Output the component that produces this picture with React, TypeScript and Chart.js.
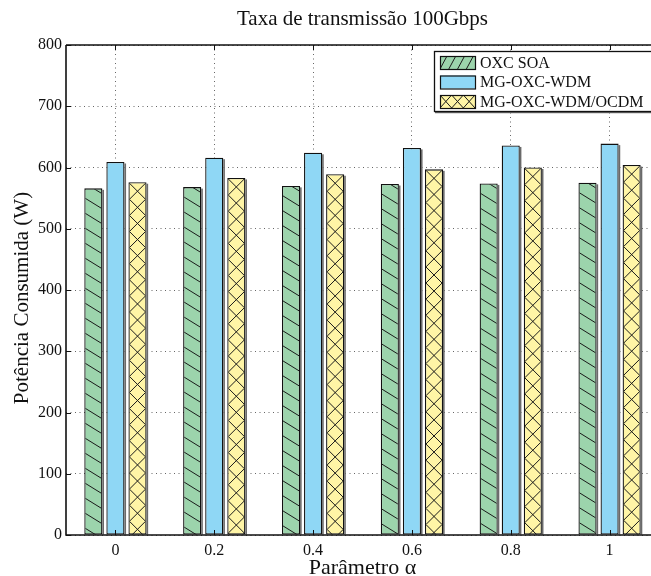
import React, { useEffect, useRef } from 'react';
import { Chart, registerables } from 'chart.js';
Chart.register(...registerables);

const categories = ['0', '0.2', '0.4', '0.6', '0.8', '1'];
const oxcSoa = [566, 568, 570, 573, 574, 575];
const mgOxcWdm = [609, 616, 624, 632, 636, 639];
const mgOxcWdmOcdm = [576, 583, 589, 597, 600, 604];
const seriesNames = ['OXC SOA', 'MG-OXC-WDM', 'MG-OXC-WDM/OCDM'];
const seriesColors = ['#9cd4ac', '#8fd7f5', '#fff5a6'];
const yMin = 0;
const yMax = 800;
const yStep = 100;
const titleText = 'Taxa de transmissão 100Gbps';
const xTitle = 'Parâmetro α';
const yTitle = 'Potência Consumida (W)';

const FONT = '"Liberation Serif", "Times New Roman", serif';
const INK = '#111';

function hatchBackslash(ctx: CanvasRenderingContext2D, l: number, t: number, r: number, b: number, slope: number, spacing: number, c0: number) {
  ctx.save();
  ctx.beginPath();
  ctx.rect(l, t, r - l, b - t);
  ctx.clip();
  ctx.beginPath();
  const w = r - l;
  let c = c0;
  while (c > t - slope * w) c -= spacing;
  for (; c < b; c += spacing) {
    ctx.moveTo(l, c);
    ctx.lineTo(r, c + slope * w);
  }
  ctx.stroke();
  ctx.restore();
}

function hatchCross(ctx: CanvasRenderingContext2D, l: number, t: number, r: number, b: number) {
  const w = r - l;
  ctx.save();
  ctx.beginPath();
  ctx.rect(l, t, w, b - t);
  ctx.clip();
  ctx.beginPath();
  for (let c = t; c < b; c += w) {
    ctx.moveTo(l, c);
    ctx.lineTo(r, c + w);
    ctx.moveTo(r, c);
    ctx.lineTo(l, c + w);
  }
  ctx.stroke();
  ctx.restore();
}

const decorPlugin = {
  id: 'decor',
  beforeDatasetsDraw(chart: any) {
    const ctx = chart.ctx as CanvasRenderingContext2D;
    ctx.save();
    ctx.fillStyle = '#6a6a6a';
    chart.data.datasets.forEach((_: any, di: number) => {
      chart.getDatasetMeta(di).data.forEach((bar: any) => {
        const right = bar.x + bar.width / 2;
        ctx.fillRect(right, bar.y + 1.5, 1.6, bar.base - bar.y - 1.5);
      });
    });
    ctx.restore();
  },
  afterDatasetsDraw(chart: any) {
    const ctx = chart.ctx as CanvasRenderingContext2D;
    ctx.save();
    ctx.strokeStyle = '#1a1a1a';
    ctx.lineWidth = 1;
    chart.getDatasetMeta(0).data.forEach((bar: any) => {
      const l = bar.x - bar.width / 2 + 1, r = bar.x + bar.width / 2 - 1;
      hatchBackslash(ctx, l, bar.y + 1, r, bar.base, 0.62, 15, bar.y - 5);
    });
    chart.getDatasetMeta(2).data.forEach((bar: any) => {
      const l = bar.x - bar.width / 2 + 1, r = bar.x + bar.width / 2 - 1;
      hatchCross(ctx, l, bar.y + 1, r, bar.base);
    });
    ctx.restore();
  },
  afterDraw(chart: any) {
    const ctx = chart.ctx as CanvasRenderingContext2D;
    const { left, right, top, bottom } = chart.chartArea;
    const xs = chart.scales.x;
    const ys = chart.scales.y;
    ctx.save();
    // frame
    ctx.strokeStyle = INK;
    ctx.lineWidth = 1.6;
    ctx.beginPath();
    ctx.moveTo(left, top);
    ctx.lineTo(right, top);
    ctx.moveTo(left, top);
    ctx.lineTo(left, bottom);
    ctx.lineTo(right, bottom);
    ctx.stroke();
    // inward ticks
    ctx.lineWidth = 1;
    ctx.beginPath();
    for (let v = yMin; v <= yMax; v += yStep) {
      const y = Math.round(ys.getPixelForValue(v)) + 0.5;
      ctx.moveTo(left, y);
      ctx.lineTo(left + 5, y);
    }
    categories.forEach((_, i) => {
      const x = Math.round(xs.getPixelForValue(i)) + 0.5;
      ctx.moveTo(x, top);
      ctx.lineTo(x, top + 5);
      ctx.moveTo(x, bottom);
      ctx.lineTo(x, bottom - 5);
    });
    ctx.stroke();

    // legend
    const lx = 434, ly = 51, lw = 300, lh = 60;
    ctx.fillStyle = '#fff';
    ctx.fillRect(lx, ly, lw, lh);
    ctx.strokeStyle = INK;
    ctx.lineWidth = 1.3;
    ctx.strokeRect(lx + 0.5, ly + 0.5, lw, lh);
    ctx.fillStyle = '#555';
    ctx.fillRect(lx + 1, ly + lh + 1, lw, 1.2);
    const sx = 440, sw = 35, sh = 13;
    const rows = [56, 75.5, 95];
    ctx.font = `16px ${FONT}`;
    ctx.textBaseline = 'middle';
    ctx.textAlign = 'left';
    seriesNames.forEach((name, i) => {
      const sy = rows[i];
      ctx.fillStyle = seriesColors[i];
      ctx.fillRect(sx, sy, sw, sh);
      ctx.strokeStyle = '#1a1a1a';
      ctx.lineWidth = 1;
      if (i === 0) {
        ctx.save();
        ctx.beginPath();
        ctx.rect(sx, sy, sw, sh);
        ctx.clip();
        ctx.beginPath();
        for (let k = -1; k < 5; k++) {
          const bx = sx + k * 8.8;
          ctx.moveTo(bx, sy + sh);
          ctx.lineTo(bx + 7, sy);
        }
        ctx.stroke();
        ctx.restore();
      } else if (i === 2) {
        ctx.save();
        ctx.beginPath();
        ctx.rect(sx, sy, sw, sh);
        ctx.clip();
        ctx.beginPath();
        const cw = sw / 3;
        for (let k = 0; k < 3; k++) {
          const bx = sx + k * cw;
          ctx.moveTo(bx, sy);
          ctx.lineTo(bx + cw, sy + sh);
          ctx.moveTo(bx + cw, sy);
          ctx.lineTo(bx, sy + sh);
        }
        ctx.stroke();
        ctx.restore();
      }
      ctx.strokeStyle = INK;
      ctx.lineWidth = 1.2;
      ctx.strokeRect(sx + 0.5, sy + 0.5, sw, sh);
      ctx.fillStyle = INK;
      ctx.fillText(name, 480, sy + sh / 2 + 1);
    });

    // titles
    ctx.fillStyle = INK;
    ctx.textAlign = 'center';
    ctx.textBaseline = 'alphabetic';
    ctx.font = `21px ${FONT}`;
    ctx.fillText(titleText, (left + right) / 2, 25);
    ctx.font = `22px ${FONT}`;
    ctx.fillText(xTitle, (left + right) / 2, 574);
    ctx.save();
    ctx.translate(28, (top + bottom) / 2 + 8);
    ctx.rotate(-Math.PI / 2);
    ctx.font = `21px ${FONT}`;
    ctx.fillText(yTitle, 0, 0);
    ctx.restore();
    ctx.restore();
  },
};

export default function App() {
  const ref = useRef<HTMLCanvasElement | null>(null);
  useEffect(() => {
    if (!ref.current) return;
    const chart = new Chart(ref.current, {
      type: 'bar',
      data: {
        labels: categories,
        datasets: [
          { label: seriesNames[0], data: oxcSoa, backgroundColor: seriesColors[0] },
          { label: seriesNames[1], data: mgOxcWdm, backgroundColor: seriesColors[1] },
          { label: seriesNames[2], data: mgOxcWdmOcdm, backgroundColor: seriesColors[2] },
        ].map((d) => ({
          ...d,
          borderColor: INK,
          borderWidth: 1.3,
          borderSkipped: false,
          categoryPercentage: 0.67,
          barPercentage: 0.82,
        })),
      },
      options: {
        animation: false,
        responsive: false,
        devicePixelRatio: 1,
        layout: { padding: { top: 45, left: 0, right: 0, bottom: 0 } },
        plugins: { legend: { display: false }, title: { display: false }, tooltip: { enabled: false } },
        scales: {
          x: {
            offset: true,
            grid: { display: true, offset: false, drawTicks: false, color: 'rgba(0,0,0,0.6)' },
            border: { display: false, dash: [1, 3.5] },
            ticks: { color: INK, font: { family: FONT, size: 16 }, padding: 6, maxRotation: 0 },
            afterFit: (s: any) => { s.height = 41; },
          },
          y: {
            min: yMin,
            max: yMax,
            grid: { drawTicks: false, color: 'rgba(0,0,0,0.6)' },
            border: { display: false, dash: [1, 3.5] },
            ticks: { stepSize: yStep, color: INK, font: { family: FONT, size: 16 }, padding: 4 },
            afterFit: (s: any) => { s.width = 66; },
          },
        },
      },
      plugins: [decorPlugin],
    } as any);
    return () => chart.destroy();
  }, []);
  return (
    <div style={{ position: 'fixed', left: 0, top: 0, width: 651, height: 576, overflow: 'hidden', background: '#fff' }}>
      <canvas ref={ref} width={659} height={576} style={{ display: 'block', width: 659, height: 576 }} />
    </div>
  );
}
